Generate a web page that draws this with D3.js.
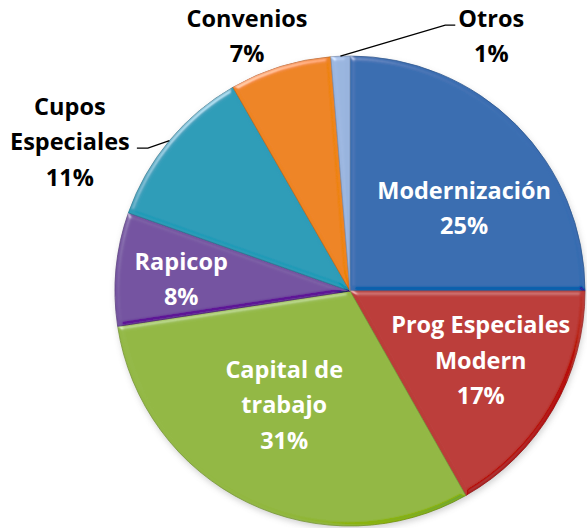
<!DOCTYPE html>
<html>
<head>
<meta charset="utf-8">
<script src="https://cdn.jsdelivr.net/npm/d3@7"></script>
<style>
  body { margin: 0; background: #fff; }
  text { font-family: "Open Sans", Lato, sans-serif; font-weight: bold; }
</style>
</head>
<body>
<div id="chart"></div>
<script>
// Data (percent of total)
const categories = ["Modernización", "Prog Especiales Modern", "Capital de trabajo", "Rapicop", "Cupos Especiales", "Convenios", "Otros"];
const values = [25.0, 16.8, 30.8, 7.8, 11.3, 7.0, 1.3];
const percentLabels = ["25%", "17%", "31%", "8%", "11%", "7%", "1%"];
// how each category name is broken into lines
const nameLines = [["Modernización"], ["Prog Especiales", "Modern"], ["Capital de", "trabajo"], ["Rapicop"], ["Cupos", "Especiales"], ["Convenios"], ["Otros"]];
const colors = ["#3a6db1", "#bb3c39", "#93b845", "#7453a0", "#2f9cb8", "#ee8424", "#9ab5df"];

// label placement: distance (fraction of radius) and angle (degrees, clockwise from top)
const labelPlace = [[0.60, 54], [0.63, 118], [0.56, 210], [0.72, 274], [1.35, 298], [1.17, 338], [1.24, 29]];
const inside = [true, true, true, true, false, false, false];

const width = 587, height = 528;
const cx = 350, cy = 291, radius = 235;
const lineH = 35.5;
const fontSize = 23.5;

const svg = d3.select("#chart").append("svg")
  .attr("width", width)
  .attr("height", height);

const defs = svg.append("defs");

// soft bevel look: light rim on the lit side, darker rim on the far side
const bevel = defs.append("filter").attr("id", "bevel")
  .attr("x", "-5%").attr("y", "-5%").attr("width", "110%").attr("height", "110%");
bevel.append("feGaussianBlur").attr("in", "SourceAlpha").attr("stdDeviation", 2.5).attr("result", "blur");
bevel.append("feSpecularLighting").attr("in", "blur")
  .attr("surfaceScale", 3).attr("specularConstant", 0.7).attr("specularExponent", 30)
  .attr("lighting-color", "#ffffff").attr("result", "spec")
  .append("feDistantLight").attr("azimuth", 235).attr("elevation", 30);
bevel.append("feSpecularLighting").attr("in", "blur")
  .attr("surfaceScale", 3).attr("specularConstant", 0.7).attr("specularExponent", 30)
  .attr("lighting-color", "#ffffff").attr("result", "spec2")
  .append("feDistantLight").attr("azimuth", 55).attr("elevation", 30);
bevel.append("feComposite").attr("in", "spec").attr("in2", "SourceAlpha").attr("operator", "in").attr("result", "specOut");
bevel.append("feComposite").attr("in", "spec2").attr("in2", "SourceAlpha").attr("operator", "in").attr("result", "spec2Out");
bevel.append("feComposite").attr("in", "SourceGraphic").attr("in2", "specOut")
  .attr("operator", "arithmetic").attr("k1", 0).attr("k2", 1).attr("k3", 0.55).attr("k4", 0).attr("result", "lit");
bevel.append("feComposite").attr("in", "lit").attr("in2", "spec2Out")
  .attr("operator", "arithmetic").attr("k1", 0).attr("k2", 1).attr("k3", -0.35).attr("k4", 0);

const shadow = defs.append("filter").attr("id", "shadow")
  .attr("x", "-10%").attr("y", "-10%").attr("width", "120%").attr("height", "120%");
shadow.append("feGaussianBlur").attr("stdDeviation", 3);

const g = svg.append("g").attr("transform", `translate(${cx},${cy})`);

const pie = d3.pie().sort(null).value(d => d);
const arcs = pie(values);
const arc = d3.arc().innerRadius(0).outerRadius(radius);

// drop shadow under the pie
g.append("circle")
  .attr("cx", 1).attr("cy", 3).attr("r", radius)
  .attr("fill", "#999").attr("opacity", 0.45)
  .attr("filter", "url(#shadow)");

g.selectAll("path.slice")
  .data(arcs)
  .enter()
  .append("path")
  .attr("class", "slice")
  .attr("d", arc)
  .attr("fill", (d, i) => colors[i])
  .attr("stroke", (d, i) => d3.color(colors[i]).darker(0.6))
  .attr("stroke-width", 0.8)
  .attr("filter", "url(#bevel)");

// labels
const rad = a => a * Math.PI / 180;
const labels = g.selectAll("g.label")
  .data(arcs)
  .enter()
  .append("g")
  .attr("class", "label")
  .attr("transform", (d, i) => {
    const [f, a] = labelPlace[i];
    return `translate(${f * radius * Math.sin(rad(a))},${-f * radius * Math.cos(rad(a))})`;
  });

labels.each(function(d, i) {
  const lines = nameLines[i].concat([percentLabels[i]]);
  const t = d3.select(this).append("text")
    .attr("text-anchor", "middle")
    .attr("font-size", fontSize)
    .attr("fill", inside[i] ? "#fff" : "#000");
  lines.forEach((s, k) => {
    t.append("tspan")
      .attr("x", 0)
      .attr("y", (k - (lines.length - 1) / 2) * lineH)
      .attr("dy", "0.35em")
      .text(s);
  });
});

// leader lines for outside labels that sit away from their slice
const leaders = [
  { i: 6, elbow: [-46, -11], end: [-36, -11] },
  { i: 4, elbow: [78, 6], end: [67, 6] }
];
leaders.forEach(l => {
  const d = arcs[l.i];
  const mid = (d.startAngle + d.endAngle) / 2;
  const p0 = [radius * Math.sin(mid), -radius * Math.cos(mid)];
  const [f, a] = labelPlace[l.i];
  const lx = f * radius * Math.sin(rad(a)), ly = -f * radius * Math.cos(rad(a));
  g.append("polyline")
    .attr("points", [p0, [lx + l.elbow[0], ly + l.elbow[1]], [lx + l.end[0], ly + l.end[1]]].map(p => p.join(",")).join(" "))
    .attr("fill", "none")
    .attr("stroke", "#000")
    .attr("stroke-width", 1.3);
});
</script>
</body>
</html>
